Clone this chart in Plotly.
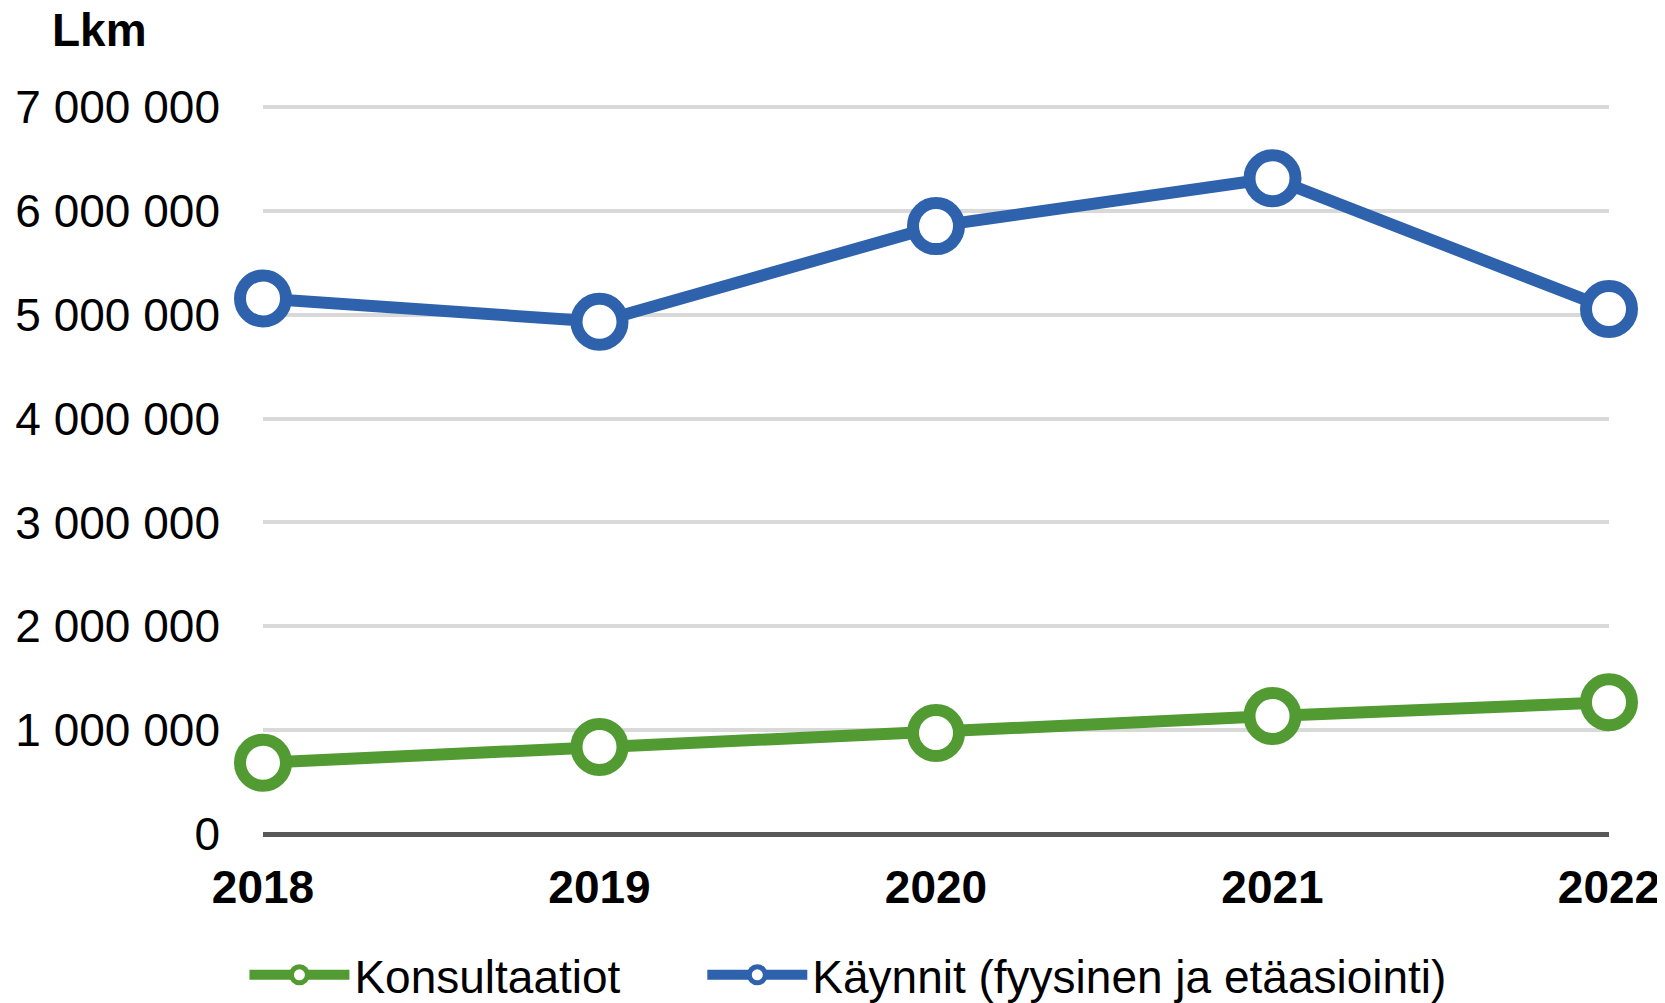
import plotly.graph_objects as go

years = ["2018", "2019", "2020", "2021", "2022"]
konsultaatiot = [686000, 839000, 972000, 1136000, 1269000]
kaynnit = [5158000, 4933000, 5854000, 6315000, 5056000]
y_ticks = [0, 1000000, 2000000, 3000000, 4000000, 5000000, 6000000, 7000000]

GREEN = "#529B33"
BLUE = "#2F62AC"
FONT = "Liberation Sans, Arial, sans-serif"

fig = go.Figure()
fig.add_trace(go.Scatter(
    x=years, y=konsultaatiot, name="Konsultaatiot", mode="lines+markers",
    line=dict(color=GREEN, width=12),
    marker=dict(symbol="circle", size=46, color="white", line=dict(color=GREEN, width=12)),
    cliponaxis=False, legend="legend",
))
fig.add_trace(go.Scatter(
    x=years, y=kaynnit, name="Käynnit (fyysinen ja etäasiointi)", mode="lines+markers",
    line=dict(color=BLUE, width=12),
    marker=dict(symbol="circle", size=46, color="white", line=dict(color=BLUE, width=12)),
    cliponaxis=False, legend="legend2",
))

legend_common = dict(orientation="h", xref="container", yref="container",
                     xanchor="left", y=0.036, yanchor="middle",
                     font=dict(family=FONT, size=46, color="black"), itemwidth=100,
                     bgcolor="rgba(0,0,0,0)")

fig.update_layout(
    width=1665, height=1003,
    margin=dict(l=255, r=64, t=96, b=177, autoexpand=False),
    paper_bgcolor="white", plot_bgcolor="white",
    font=dict(family=FONT, size=46, color="black"),
    separators=", ",
    showlegend=True,
    legend=dict(x=0.142, **legend_common),
    legend2=dict(x=0.417, **legend_common),
    xaxis=dict(type="category", range=[0, 4], showgrid=False, showline=False,
               zeroline=False, ticks="", automargin=False,
               tickfont=dict(family=FONT, size=46, color="black", weight="bold"),
               ticklabelstandoff=22),
    yaxis=dict(range=[0, 7030000], tickvals=y_ticks, tickformat=",d",
               showgrid=True, gridcolor="#D9D9D9", gridwidth=3.5,
               zeroline=True, zerolinecolor="#595959", zerolinewidth=5,
               showline=False, ticks="", ticklabelstandoff=42, automargin=False,
               tickfont=dict(family=FONT, size=46, color="black")),
    annotations=[dict(text="<b>Lkm</b>", xref="paper", yref="paper", x=-0.158, y=1.101,
                      xanchor="left", yanchor="middle", showarrow=False,
                      font=dict(family=FONT, size=46, color="black"))],
)

fig.write_html("out.html")
